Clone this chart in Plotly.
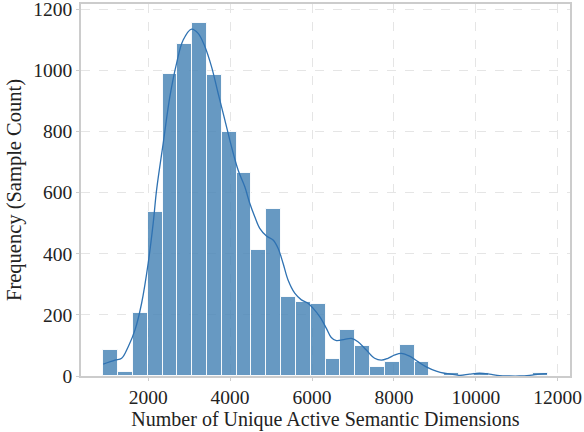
import numpy as np
import plotly.graph_objects as go

# Histogram data (30 equal-width bins)
bin_start = 902
bin_width = 362
counts = [84, 12, 207, 538, 987, 1086, 1154, 985, 799, 665,
          412, 545, 260, 243, 236, 55, 151, 99, 28, 47,
          101, 47, 0, 11, 0, 11, 0, 0, 0, 11]

# KDE curve (x value, scaled count)
kde_x = [902, 1188, 1351, 1512, 1676, 1839, 2000, 2122, 2205, 2366, 2529, 2693,
         2854, 3058, 3220, 3383, 3546, 3707, 3871, 4034, 4195, 4359, 4480, 4602,
         4724, 4888, 5049, 5171, 5293, 5415, 5578, 5741, 5902, 6024, 6188, 6351,
         6470, 6595, 6798, 6961, 7122, 7327, 7529, 7693, 7854, 8024, 8180, 8383,
         8585, 8790, 9034, 9237, 9359, 9603, 9846, 10090, 10334, 10578, 10822,
         11066, 11310, 11554, 11740]
kde_y = [39, 52, 58, 96, 150, 238, 369, 500, 609, 761, 914, 1023,
         1099, 1135, 1121, 1078, 1012, 925, 838, 750, 674, 619, 565, 521,
         483, 458, 445, 418, 369, 314, 271, 249, 238, 222, 194, 156,
         126, 116, 120, 123, 112, 85, 58, 52, 58, 69, 74, 65,
         47, 30, 16, 9, 7, 2, 6, 9, 6, 1, 0,
         0, 2, 6, 8]

x_ticks = [2000, 4000, 6000, 8000, 10000, 12000]
y_ticks = [0, 200, 400, 600, 800, 1000, 1200]

edges = bin_start + bin_width * np.arange(len(counts) + 1)
centers = (edges[:-1] + edges[1:]) / 2

fig = go.Figure()
fig.add_trace(go.Bar(
    x=centers, y=counts, width=bin_width,
    marker=dict(color="rgba(70,130,180,0.82)",
                line=dict(color="rgba(255,255,255,0.9)", width=1)),
    showlegend=False, hoverinfo="skip"))
fig.add_trace(go.Scatter(
    x=kde_x, y=kde_y, mode="lines", line_shape="spline",
    line=dict(color="#2f72b2", width=1.3), showlegend=False))

font = "Liberation Serif"
axis_common = dict(
    showline=True, linecolor="#cccccc", linewidth=1.5, mirror=True,
    showgrid=True, gridcolor="#e5e5e5", griddash="dash", gridwidth=1,
    ticks="outside", tickcolor="#cccccc", ticklen=3, tickwidth=1,
    zeroline=False, automargin=False, ticklabeloverflow="allow",
    tickfont=dict(family=font, size=19.5, color="#222222"),
)
fig.update_layout(
    width=584, height=432,
    margin=dict(l=81, r=14, t=4, b=56),
    plot_bgcolor="white", paper_bgcolor="white",
    bargap=0,
    font=dict(family=font, color="#222222"),
    xaxis=dict(range=[359, 12300], tickvals=x_ticks,
               ticktext=[str(v) for v in x_ticks],
               title=dict(text="Number of Unique Active Semantic Dimensions",
                          font=dict(family=font, size=20), standoff=2),
               **axis_common),
    yaxis=dict(range=[0, 1217], tickvals=y_ticks,
               ticktext=[str(v) for v in y_ticks],
               title=dict(text="Frequency (Sample Count)",
                          font=dict(family=font, size=20.5), standoff=6),
               **axis_common),
)
fig.write_html("out.html", config={"displayModeBar": False},
               post_script="document.body.style.margin='0';document.body.style.padding='0';")
